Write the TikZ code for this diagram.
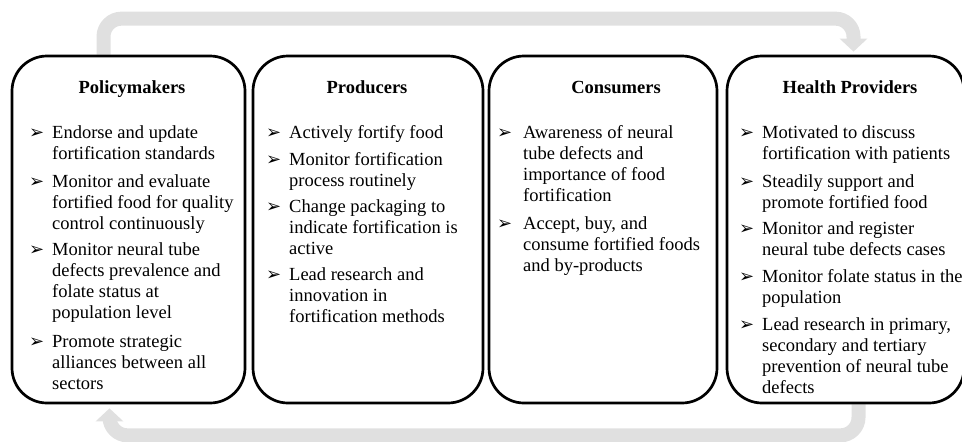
\documentclass[tikz,border=0pt]{standalone}
\usepackage{fontspec}
\setmainfont{Liberation Serif}
\newfontfamily\dingfont{DejaVu Sans}
\usetikzlibrary{arrows.meta,backgrounds}

% item text, first line on the node's baseline
\newcommand\lines[1]{\begin{tabular}[t]{@{}l@{}}#1\end{tabular}}

\tikzset{
  sector/.style={draw, line width=2.7pt, rounded corners=35pt,
    minimum height=347pt, inner sep=0pt},
  head/.style={font=\fontsize{18.5}{21.3}\selectfont\bfseries,
    anchor=base, inner sep=0pt},
  entry/.style={font=\fontsize{18.5}{21.3}\selectfont,
    anchor=base west, inner sep=0pt},
  tick/.style={font=\dingfont\fontsize{18}{18}\selectfont,
    anchor=base west, inner sep=0pt},
  feedback/.style={line width=14pt, draw=black!12, rounded corners=18pt,
    -{Triangle[width=27pt,length=13pt]}},
}

\begin{document}
\begin{tikzpicture}[x=1pt,y=-1pt]
\useasboundingbox (0,0) rectangle (962,442);

% the four sectors
\node[sector, minimum width=233pt] (pol) at (128.5,229.5) {};
\node[sector, minimum width=230pt] (pro) at (368,229.5) {};
\node[sector, minimum width=228pt] (con) at (603,229.5) {};
\node[sector, minimum width=237pt] (hea) at (845.5,229.5) {};

\node[head] (polH) at (132,93) {Policymakers};
\node[head] (proH) at (367,93) {Producers};
\node[head] (conH) at (616,93) {Consumers};
\node[head] (heaH) at (850,93) {Health Providers};

% bullet lists, one baseline per item
\foreach \y/\txt [count=\i] in {
    138/{Endorse and update\\fortification standards},
    187/{Monitor and evaluate\\fortified food for quality\\control continuously},
    255/{Monitor neural tube\\defects prevalence and\\folate status at\\population level},
    347/{Promote strategic\\alliances between all\\sectors}}{
  \node[tick] (polB\i) at (29,\y) {➢};
  \node[entry] (polE\i) at (52,\y) {\lines{\txt}};
}
\foreach \y/\txt [count=\i] in {
    138/{Actively fortify food},
    165/{Monitor fortification\\process routinely},
    212/{Change packaging to\\indicate fortification is\\active},
    280/{Lead research and\\innovation in\\fortification methods}}{
  \node[tick] (proB\i) at (266,\y) {➢};
  \node[entry] (proE\i) at (289,\y) {\lines{\txt}};
}
\foreach \y/\txt [count=\i] in {
    138/{Awareness of neural\\tube defects and\\importance of food\\fortification},
    229/{Accept, buy, and\\consume fortified foods\\and by-products}}{
  \node[tick] (conB\i) at (497,\y) {➢};
  \node[entry] (conE\i) at (523,\y) {\lines{\txt}};
}
\foreach \y/\txt [count=\i] in {
    138/{Motivated to discuss\\fortification with patients},
    187/{Steadily support and\\promote fortified food},
    234/{Monitor and register\\neural tube defects cases},
    282/{Monitor folate status in the\\population},
    330/{Lead research in primary,\\secondary and tertiary\\prevention of neural tube\\defects}}{
  \node[tick] (heaB\i) at (739,\y) {➢};
  \node[entry] (heaE\i) at (762,\y) {\lines{\txt}};
}

% grey loop behind the boxes
\begin{scope}[on background layer]
\draw[feedback, shorten >=3pt] ([xshift=-25pt]pol.north) -- ++(0,-36)
  -| ([xshift=8pt]hea.north);
\draw[feedback, shorten >=4pt] ([xshift=13pt]hea.south) -- ++(0,31)
  -| ([xshift=-19pt]pol.south);
\end{scope}
\end{tikzpicture}
\end{document}
